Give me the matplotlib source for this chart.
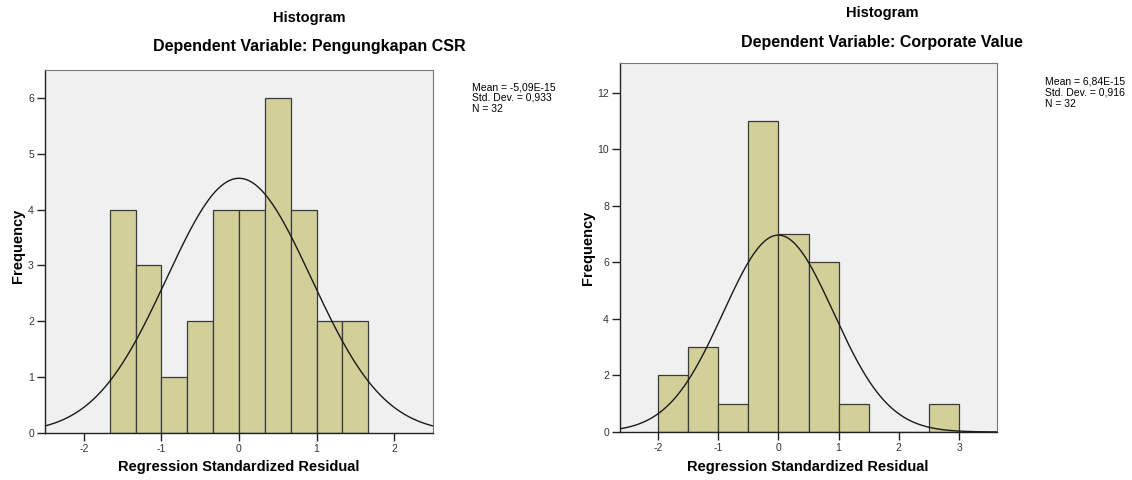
import numpy as np
import matplotlib as mpl
mpl.use('Agg')
import matplotlib.pyplot as plt

mpl.rcParams['font.family'] = ['Liberation Sans', 'DejaVu Sans']

# left panel: Pengungkapan CSR
csr_edges = [-5/3, -4/3, -1, -2/3, -1/3, 0, 1/3, 2/3, 1, 4/3, 5/3]
csr_counts = [4, 3, 1, 2, 4, 4, 6, 4, 2, 2]
csr_mean, csr_sd, csr_n = -5.09e-15, 0.933, 32
csr_stats = 'Mean = -5,09E-15\nStd. Dev. = 0,933\nN = 32'

# right panel: Corporate Value
cv_edges = [-2, -1.5, -1, -0.5, 0, 0.5, 1, 1.5, 2, 2.5, 3]
cv_counts = [2, 3, 1, 11, 7, 6, 1, 0, 0, 1]
cv_mean, cv_sd, cv_n = 6.84e-15, 0.916, 32
cv_stats = 'Mean = 6,84E-15\nStd. Dev. = 0,916\nN = 32'

BAR = '#d3cf99'
BG = '#f0f0f0'
W, H = 1132, 480

def px_axes(fig, x0, y0, x1, y1):
    # pixel box (top-left origin) -> figure fraction
    return fig.add_axes([x0/W, 1 - y1/H, (x1-x0)/W, (y1-y0)/H])

def ftext(x, y, s, **kw):
    return fig.text(x/W, 1 - y/H, s, **kw)

def spss_hist(ax, edges, counts, mu, sd, n, xlim, ylim, yticks, xticks):
    edges = np.array(edges)
    widths = np.diff(edges)
    ax.set_facecolor(BG)
    ax.bar(edges[:-1], counts, width=widths, align='edge', color=BAR,
           edgecolor='#3a3a3a', linewidth=0.9, zorder=2)
    bw = widths[0]
    xs = np.linspace(xlim[0], xlim[1], 400)
    ys = n * bw * np.exp(-0.5*((xs-mu)/sd)**2) / (sd*np.sqrt(2*np.pi))
    ax.plot(xs, ys, color='#1a1a1a', lw=1.0, zorder=3)
    ax.set_xlim(*xlim)
    ax.set_ylim(*ylim)
    ax.set_xticks(xticks)
    ax.set_xticklabels([str(t) for t in xticks])
    ax.set_yticks(yticks)
    for s in ['top', 'right']:
        ax.spines[s].set_color('#777777')
        ax.spines[s].set_linewidth(0.8)
    for s in ['left', 'bottom']:
        ax.spines[s].set_color('#222222')
        ax.spines[s].set_linewidth(1.0)
    ax.tick_params(direction='out', length=6, width=1, labelsize=7.5,
                   colors='#222222', labelcolor='#333333')
    ax.tick_params(axis='x', pad=2)
    ax.tick_params(axis='y', pad=2)

fig = plt.figure(figsize=(W/100, H/100), dpi=100)
fig.patch.set_facecolor('white')

bold = dict(fontsize=10.5, fontweight='bold', ha='center', va='center')
sub = dict(fontsize=11.5, fontweight='bold', ha='center', va='center')
stat = dict(fontsize=7.5, ha='left', va='top', linespacing=1.1)

ax1 = px_axes(fig, 45, 70, 433, 433)
spss_hist(ax1, csr_edges, csr_counts, csr_mean, csr_sd, csr_n,
          (-2.5, 2.5), (0, 6.5), range(0, 7), [-2, -1, 0, 1, 2])
ftext(309, 18, 'Histogram', **bold)
ftext(309, 47, 'Dependent Variable: Pengungkapan CSR', **sub)
ftext(472, 82, csr_stats, **stat)
ftext(239, 467, 'Regression Standardized Residual', **bold)
ftext(18, 246, 'Frequency', rotation=90, **bold)

ax2 = px_axes(fig, 620, 63, 997, 432)
spss_hist(ax2, cv_edges, cv_counts, cv_mean, cv_sd, cv_n,
          (-2.63, 3.63), (0, 13.06), range(0, 13, 2), [-2, -1, 0, 1, 2, 3])
ftext(882, 13, 'Histogram', **bold)
ftext(882, 42, 'Dependent Variable: Corporate Value', **sub)
ftext(1045, 77, cv_stats, **stat)
ftext(808, 467, 'Regression Standardized Residual', **bold)
ftext(588, 248, 'Frequency', rotation=90, **bold)

plt.savefig('out.png', dpi=100)
